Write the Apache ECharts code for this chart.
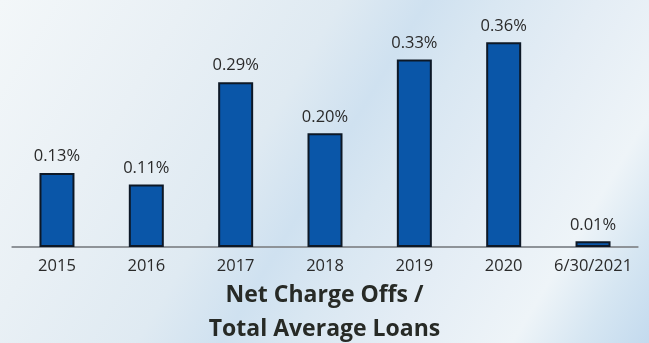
<!DOCTYPE html>
<html>
<head>
<meta charset="utf-8">
<script src="https://cdn.jsdelivr.net/npm/echarts@6/dist/echarts.min.js"></script>
<style>
  html, body { margin: 0; padding: 0; }
  #chart {
    width: 649px; height: 343px;
    /* pale blue backdrop with soft diagonal light bands */
    background: linear-gradient(121deg,
      #f3f7f9 0%, #e9f0f5 22%, #dfeaf2 40%, #cfe1f0 50%,
      #d9e7f2 58%, #e4edf5 70%, #eef4f8 84%, #d6e6f2 92%, #c3daee 100%);
  }
</style>
</head>
<body>
<div id="chart"></div>
<script>
// Net charge offs as a share of total average loans, by period
const periods = ['2015', '2016', '2017', '2018', '2019', '2020', '6/30/2021'];
const chargeOffPct = [0.13, 0.11, 0.29, 0.20, 0.33, 0.36, 0.01];
const titleLines = ['Net Charge Offs /', 'Total Average Loans'];

const chart = echarts.init(document.getElementById('chart'), null, { renderer: 'canvas' });

chart.setOption({
  backgroundColor: 'transparent',
  title: {
    text: titleLines.join('\n'),
    left: 'center',
    top: 278,
    padding: 0,
    textStyle: {
      fontFamily: 'Open Sans',
      fontWeight: 'bold',
      fontSize: 23,
      color: '#272a26',
      lineHeight: 34
    }
  },
  grid: { left: 12.3, right: 11.3, top: 19.6, bottom: 96 },
  xAxis: {
    type: 'category',
    data: periods,
    axisLine: { lineStyle: { color: '#8e9398', width: 2 } },
    axisTick: { show: false },
    axisLabel: {
      interval: 0,
      hideOverlap: false,
      fontFamily: 'Open Sans',
      fontSize: 16.5,
      color: '#2a2a2a',
      margin: 11
    }
  },
  yAxis: {
    type: 'value',
    min: 0,
    max: 0.4,
    show: false,
    splitLine: { show: false }
  },
  series: [{
    type: 'bar',
    data: chargeOffPct,
    barWidth: 35,
    itemStyle: {
      color: '#0a56a8',
      borderColor: '#0d1826',
      borderWidth: 2
    },
    label: {
      show: true,
      position: 'top',
      distance: 8,
      formatter: p => p.value.toFixed(2) + '%',
      fontFamily: 'Open Sans',
      fontSize: 16.5,
      color: '#2a2a2a'
    }
  }]
});
</script>
</body>
</html>
